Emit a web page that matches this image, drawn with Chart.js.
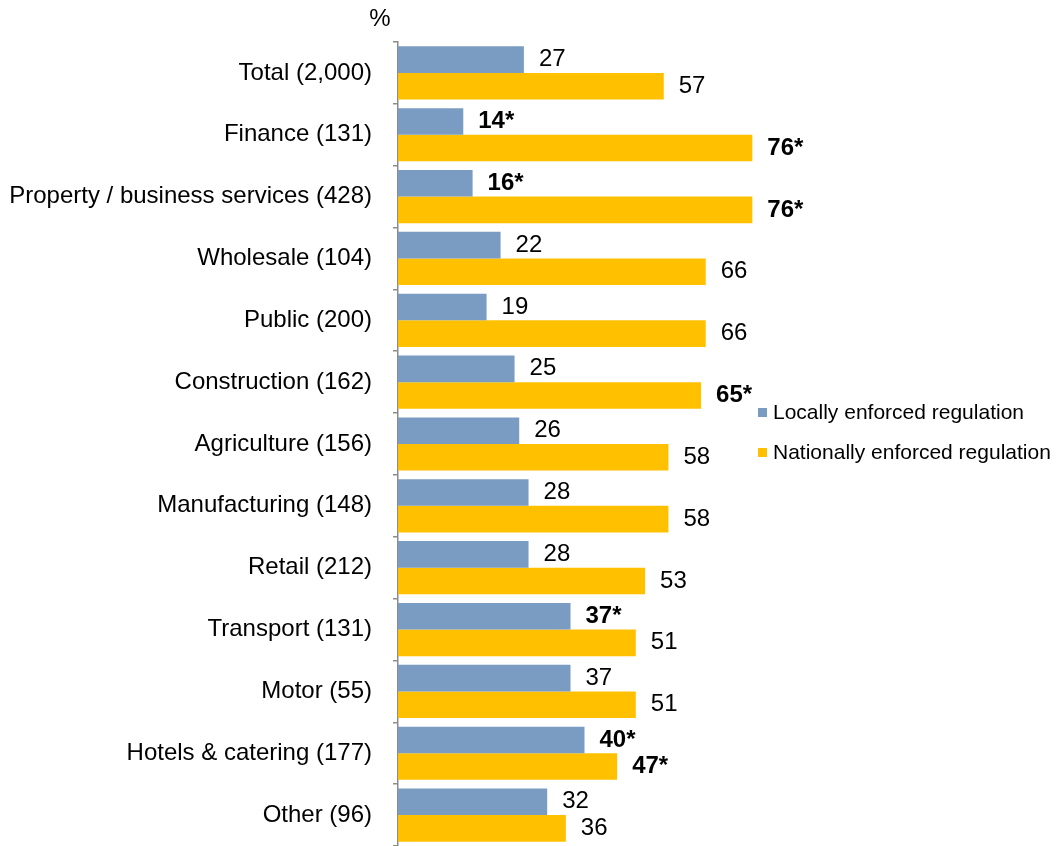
<!DOCTYPE html>
<html>
<head>
<meta charset="utf-8">
<script src="https://cdn.jsdelivr.net/npm/chart.js@4"></script>
<style>
  body { margin: 0; background: #fff; }
  #wrap { position: relative; width: 1062px; height: 846px; }
  .leyenda { position: absolute; left: 758px; font: 21px "Liberation Sans", Arial, sans-serif; color: #000; white-space: nowrap; }
  .leyenda span { display: inline-block; width: 9px; height: 9px; margin-right: 6px; vertical-align: 2px; }
</style>
</head>
<body>
<div id="wrap">
  <canvas id="myChart" width="1062" height="846"></canvas>
  <div class="leyenda" style="top:400px"><span style="background:#7A9CC2"></span>Locally enforced regulation</div>
  <div class="leyenda" style="top:440px"><span style="background:#FFC000"></span>Nationally enforced regulation</div>
</div>
<script>
// sectores y tamaño de muestra
let sectores = ["Total (2,000)", "Finance (131)", "Property / business services (428)", "Wholesale (104)",
    "Public (200)", "Construction (162)", "Agriculture (156)", "Manufacturing (148)", "Retail (212)",
    "Transport (131)", "Motor (55)", "Hotels & catering (177)", "Other (96)"];
let local = [27, 14, 16, 22, 19, 25, 26, 28, 28, 37, 37, 40, 32];
let nacional = [57, 76, 76, 66, 66, 65, 58, 58, 53, 51, 51, 47, 36];
// diferencias significativas (negrita con *)
let localSig = [false, true, true, false, false, false, false, false, false, true, false, true, false];
let nacionalSig = [false, true, true, false, false, true, false, false, false, false, false, true, false];

const fuente = '"Liberation Sans", Arial, sans-serif';

// etiquetas de valor al final de cada barra
const etiquetas = {
    id: "etiquetas",
    afterDatasetsDraw(chart) {
        const ctx = chart.ctx;
        const marcas = [localSig, nacionalSig];
        ctx.save();
        ctx.fillStyle = "#000";
        ctx.textBaseline = "middle";
        chart.data.datasets.forEach(function (ds, d) {
            chart.getDatasetMeta(d).data.forEach(function (bar, i) {
                let sig = marcas[d][i];
                ctx.font = (sig ? "bold " : "") + "24px " + fuente;
                ctx.fillText(ds.data[i] + (sig ? "*" : ""), bar.x + 15, bar.y);
            });
        });
        // simbolo de porcentaje sobre el eje
        ctx.font = "24px " + fuente;
        ctx.textAlign = "center";
        ctx.fillText("%", chart.chartArea.left - 18, chart.chartArea.top - 23);
        ctx.restore();
    }
};

new Chart("myChart", {
    type: "bar",
    data: {
        labels: sectores,
        datasets: [{
            label: "Locally enforced regulation",
            data: local,
            backgroundColor: "#7A9CC2",
            categoryPercentage: 0.86,
            barPercentage: 1
        }, {
            label: "Nationally enforced regulation",
            data: nacional,
            backgroundColor: "#FFC000",
            categoryPercentage: 0.86,
            barPercentage: 1
        }]
    },
    plugins: [etiquetas],
    options: {
        indexAxis: "y",
        responsive: false,
        animation: false,
        layout: { padding: { top: 42, right: 291, bottom: 0, left: 0 } },
        plugins: {
            legend: { display: false },
            tooltip: { enabled: false }
        },
        scales: {
            x: { display: false, min: 0, max: 80 },
            y: {
                afterFit: function (scale) {
                    scale.width = 398;
                    scale.paddingTop = 0;
                    scale.paddingBottom = 0;
                },
                border: { color: "#8c8c8c", width: 1.5 },
                grid: {
                    offset: true,
                    drawOnChartArea: false,
                    tickLength: 5,
                    color: "#8c8c8c",
                    lineWidth: 1.5
                },
                ticks: {
                    color: "#000",
                    padding: 21,
                    font: { family: fuente, size: 24 }
                }
            }
        }
    }
});
</script>
</body>
</html>
